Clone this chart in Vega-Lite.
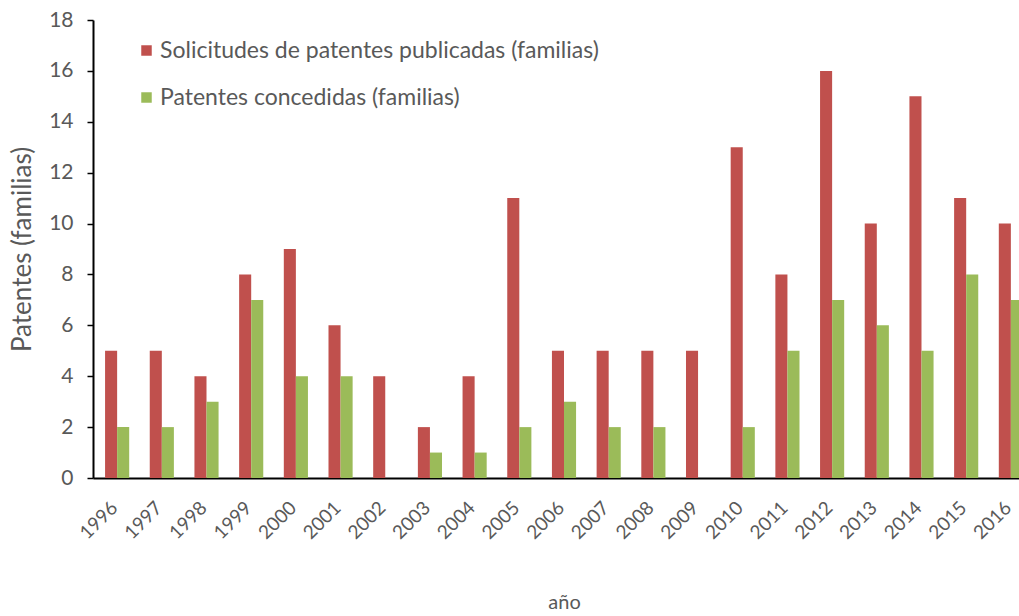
{
  "$schema": "https://vega.github.io/schema/vega-lite/v6.json",
  "width": 942,
  "height": 458,
  "padding": {"left": 9, "top": 9, "right": 0, "bottom": 0},
  "background": "white",
  "config": {
    "view": {"stroke": null},
    "font": "Lato",
    "axis": {"labelColor": "#595959", "titleColor": "#595959", "labelFont": "Lato", "titleFont": "Lato", "titleFontWeight": "normal"}
  },
  "data": {
    "values": [
      {"year": "1996", "serie": "Solicitudes de patentes publicadas (familias)", "value": 5},
      {"year": "1997", "serie": "Solicitudes de patentes publicadas (familias)", "value": 5},
      {"year": "1998", "serie": "Solicitudes de patentes publicadas (familias)", "value": 4},
      {"year": "1999", "serie": "Solicitudes de patentes publicadas (familias)", "value": 8},
      {"year": "2000", "serie": "Solicitudes de patentes publicadas (familias)", "value": 9},
      {"year": "2001", "serie": "Solicitudes de patentes publicadas (familias)", "value": 6},
      {"year": "2002", "serie": "Solicitudes de patentes publicadas (familias)", "value": 4},
      {"year": "2003", "serie": "Solicitudes de patentes publicadas (familias)", "value": 2},
      {"year": "2004", "serie": "Solicitudes de patentes publicadas (familias)", "value": 4},
      {"year": "2005", "serie": "Solicitudes de patentes publicadas (familias)", "value": 11},
      {"year": "2006", "serie": "Solicitudes de patentes publicadas (familias)", "value": 5},
      {"year": "2007", "serie": "Solicitudes de patentes publicadas (familias)", "value": 5},
      {"year": "2008", "serie": "Solicitudes de patentes publicadas (familias)", "value": 5},
      {"year": "2009", "serie": "Solicitudes de patentes publicadas (familias)", "value": 5},
      {"year": "2010", "serie": "Solicitudes de patentes publicadas (familias)", "value": 13},
      {"year": "2011", "serie": "Solicitudes de patentes publicadas (familias)", "value": 8},
      {"year": "2012", "serie": "Solicitudes de patentes publicadas (familias)", "value": 16},
      {"year": "2013", "serie": "Solicitudes de patentes publicadas (familias)", "value": 10},
      {"year": "2014", "serie": "Solicitudes de patentes publicadas (familias)", "value": 15},
      {"year": "2015", "serie": "Solicitudes de patentes publicadas (familias)", "value": 11},
      {"year": "2016", "serie": "Solicitudes de patentes publicadas (familias)", "value": 10},
      {"year": "1996", "serie": "Patentes concedidas (familias)", "value": 2},
      {"year": "1997", "serie": "Patentes concedidas (familias)", "value": 2},
      {"year": "1998", "serie": "Patentes concedidas (familias)", "value": 3},
      {"year": "1999", "serie": "Patentes concedidas (familias)", "value": 7},
      {"year": "2000", "serie": "Patentes concedidas (familias)", "value": 4},
      {"year": "2001", "serie": "Patentes concedidas (familias)", "value": 4},
      {"year": "2002", "serie": "Patentes concedidas (familias)", "value": 0},
      {"year": "2003", "serie": "Patentes concedidas (familias)", "value": 1},
      {"year": "2004", "serie": "Patentes concedidas (familias)", "value": 1},
      {"year": "2005", "serie": "Patentes concedidas (familias)", "value": 2},
      {"year": "2006", "serie": "Patentes concedidas (familias)", "value": 3},
      {"year": "2007", "serie": "Patentes concedidas (familias)", "value": 2},
      {"year": "2008", "serie": "Patentes concedidas (familias)", "value": 2},
      {"year": "2009", "serie": "Patentes concedidas (familias)", "value": 0},
      {"year": "2010", "serie": "Patentes concedidas (familias)", "value": 2},
      {"year": "2011", "serie": "Patentes concedidas (familias)", "value": 5},
      {"year": "2012", "serie": "Patentes concedidas (familias)", "value": 7},
      {"year": "2013", "serie": "Patentes concedidas (familias)", "value": 6},
      {"year": "2014", "serie": "Patentes concedidas (familias)", "value": 5},
      {"year": "2015", "serie": "Patentes concedidas (familias)", "value": 8},
      {"year": "2016", "serie": "Patentes concedidas (familias)", "value": 7}
    ]
  },
  "mark": {"type": "bar"},
  "encoding": {
    "x": {
      "field": "year", "type": "nominal", "sort": null,
      "scale": {"paddingInner": 0.46, "paddingOuter": 0.27},
      "axis": {
        "title": "año", "titleFontSize": 20, "titlePadding": 50,
        "labelAngle": -45, "labelFontSize": 19, "labelPadding": 20, "labelOffset": -9,
        "ticks": false, "domainColor": "black", "domainWidth": 2
      }
    },
    "y": {
      "field": "value", "type": "quantitative",
      "scale": {"domain": [0, 18], "nice": false},
      "axis": {
        "title": "Patentes (familias)", "titleFontSize": 26, "titlePadding": 13,
        "values": [0, 2, 4, 6, 8, 10, 12, 14, 16, 18],
        "labelFontSize": 21, "labelPadding": 14, "tickSize": 6, "tickColor": "black", "tickWidth": 1.5,
        "domainColor": "black", "domainWidth": 2, "grid": false
      }
    },
    "xOffset": {
      "field": "serie", "type": "nominal",
      "sort": ["Solicitudes de patentes publicadas (familias)", "Patentes concedidas (familias)"],
      "scale": {"paddingInner": 0, "paddingOuter": 0}
    },
    "color": {
      "field": "serie", "type": "nominal",
      "sort": ["Solicitudes de patentes publicadas (familias)", "Patentes concedidas (familias)"],
      "scale": {"range": ["#C0504D", "#9BBB59"]},
      "legend": {
        "title": null, "orient": "none", "legendX": 42, "legendY": 19,
        "symbolType": "square", "symbolSize": 110, "symbolStrokeWidth": 0,
        "labelFontSize": 23, "labelColor": "#595959", "labelFont": "Lato",
        "rowPadding": 23, "labelLimit": 700, "labelOffset": 2
      }
    }
  }
}
